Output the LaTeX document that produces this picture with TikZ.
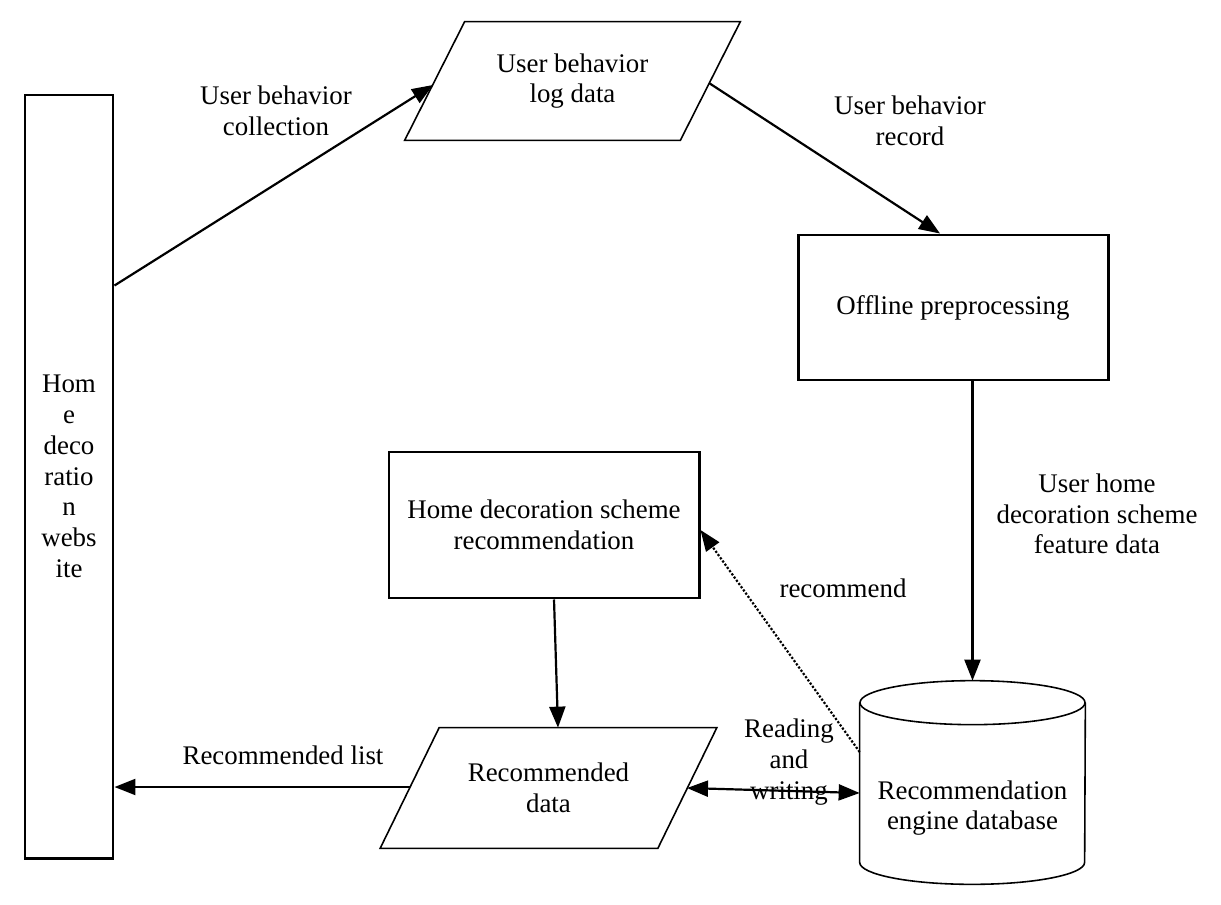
\documentclass[tikz,border=0pt]{standalone}
\usepackage{fontspec}
\setmainfont{Liberation Serif}
\usepackage{tikz}
\usetikzlibrary{calc}
\usetikzlibrary{arrows.meta}

\tikzset{
	box/.style={draw, line width=1.7pt, align=center, font=\fontsize{15.3}{17.5}\selectfont},
	txt/.style={align=center, inner sep=0pt, font=\fontsize{15.3}{17.5}\selectfont},
	outline/.style={line width=0.9pt},
	link/.style={line width=1.25pt, -{Triangle[length=0.42cm, width=0.32cm]}},
	twoway/.style={line width=1.25pt, {Triangle[length=0.42cm, width=0.32cm]}-{Triangle[length=0.42cm, width=0.32cm]}},
}

\begin{document}
\begin{tikzpicture}
		\useasboundingbox (0,0) rectangle (24.42,-18.1);

		\node[box, minimum width=1.76cm, minimum height=15.26cm] (site) at (1.38,-9.53) {Hom\\e\\deco\\ratio\\n\\webs\\ite};
		\node[box, minimum width=6.2cm, minimum height=2.9cm] (offline) at (19.06,-6.15) {Offline preprocessing};
		\node[box, minimum width=6.2cm, minimum height=2.92cm] (scheme) at (10.88,-10.5) {Home decoration scheme\\recommendation};

		\node[txt, minimum width=5.5cm, minimum height=2.36cm] (logdata) at (11.45,-1.62) {User behavior\\log data};
		\draw[outline] ($(logdata.north west)+(0.6,0)$) -- ($(logdata.north east)+(0.6,0)$) -- ($(logdata.south east)+(-0.6,0)$) -- ($(logdata.south west)+(-0.6,0)$) -- cycle;

		\node[txt, minimum width=5.54cm, minimum height=2.4cm] (recdata) at (10.97,-15.76) {Recommended\\data};
		\draw[outline] ($(recdata.north west)+(0.59,0)$) -- ($(recdata.north east)+(0.59,0)$) -- ($(recdata.south east)+(-0.59,0)$) -- ($(recdata.south west)+(-0.59,0)$) -- cycle;

		\node[txt, minimum width=4.5cm, minimum height=3.62cm] (db) at (19.45,-15.43) {};
		\draw[outline] ($(db.north west)+(0,-0.44)$) -- (db.south west) arc[start angle=180, end angle=360, x radius=2.25cm, y radius=0.44cm] -- ($(db.north east)+(0,-0.44)$);
		\draw[outline] ($(db.north)+(0,-0.44)$) ellipse[x radius=2.25cm, y radius=0.44cm];
		\node[txt] (dbtext) at (19.45,-16.16) {Recommendation\\engine database};

		\coordinate (collect) at ($(site.north east)+(0,-3.84)$);
		\coordinate (login) at (8.66,-1.7);
		\coordinate (logout) at (14.18,-1.66);
		\coordinate (rdout) at (13.74,-15.76);
		\coordinate (rdin) at (8.2,-15.74);

		\draw[link] (collect) -- (login);
		\draw[link] (logout) -- ($(offline.north)+(-0.26,0)$);
		\draw[link] (offline.south -| db.north) -- (db.north);
		\draw[link, densely dotted] ($(db.west)+(0,0.39)$) -- ($(scheme.east)+(0,-0.1)$);
		\draw[link] ($(scheme.south)+(0.2,0)$) -- ($(recdata.north)+(0.19,0)$);
		\draw[twoway] (rdout) -- ($(db.west)+(0,-0.43)$);
		\draw[link] (rdin) -- (rdin -| site.east);

		\node[txt] (collectlbl) at (5.52,-2.22) {User behavior\\collection};
		\node[txt] (recordlbl) at (18.2,-2.42) {User behavior\\record};
		\node[txt] (featurelbl) at (21.94,-10.28) {User home\\decoration scheme\\feature data};
		\node[txt] (recommendlbl) at (16.86,-11.76) {recommend};
		\node[txt] (rwlbl) at (15.78,-15.24) {Reading\\and\\writing};
		\node[txt] (listlbl) at (5.66,-15.1) {Recommended list};
\end{tikzpicture}
\end{document}
